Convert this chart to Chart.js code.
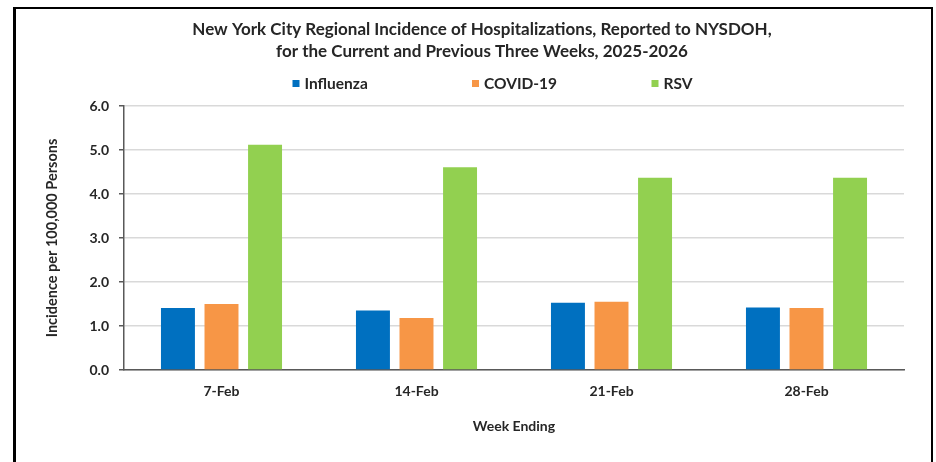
<!DOCTYPE html>
<html>
<head>
<meta charset="utf-8">
<script src="https://cdn.jsdelivr.net/npm/chart.js@4/dist/chart.umd.min.js"></script>
<style>
  html, body { margin: 0; padding: 0; background: #fff; overflow: hidden; }
  body { width: 936px; height: 462px; position: relative; }
  #frame { position: absolute; left: 13px; top: 7px; width: 920px; height: 480px; border: 2px solid #000; box-sizing: border-box; border-left-width: 3px; }
  #wrap { position: absolute; left: 0; top: 0; width: 936px; height: 462px; }
</style>
</head>
<body>
<div id="frame"></div>
<div id="wrap"><canvas id="c" width="936" height="462"></canvas></div>
<script>
const categories = ["7-Feb", "14-Feb", "21-Feb", "28-Feb"];
const influenza = [1.41, 1.35, 1.53, 1.42];
const covid19 = [1.50, 1.18, 1.55, 1.41];
const rsv = [5.12, 4.61, 4.37, 4.37];
const seriesNames = ["Influenza", "COVID-19", "RSV"];
const yTicks = [0, 1, 2, 3, 4, 5, 6];
const titleLines = ["New York City Regional Incidence of Hospitalizations, Reported to NYSDOH,",
                    "for the Current and Previous Three Weeks, 2025-2026"];
const yTitle = "Incidence per 100,000 Persons";
const xTitle = "Week Ending";

const FONT = "Lato, 'Liberation Sans', sans-serif";
const TXT = "#262626";

const spacedLegend = {
  id: 'spacedLegend',
  afterDraw(chart) {
    const ctx = chart.ctx;
    const tb = chart.titleBlock;
    const cx = (tb.left + tb.right) / 2;
    ctx.save();
    ctx.font = "bold 15.5px " + FONT;
    ctx.textBaseline = 'middle';
    ctx.textAlign = 'left';
    chart.data.datasets.forEach((ds, i) => {
      const x0 = cx - 189.5 + i * 179.5;
      ctx.fillStyle = ds.backgroundColor;
      ctx.fillRect(x0, 80, 7, 7);
      ctx.fillStyle = TXT;
      ctx.fillText(ds.label, x0 + 12, 84);
    });
    ctx.restore();
  }
};

new Chart(document.getElementById('c'), {
  type: 'bar',
  data: {
    labels: categories,
    datasets: [
      { label: seriesNames[0], data: influenza, backgroundColor: '#0070C0' },
      { label: seriesNames[1], data: covid19, backgroundColor: '#F79646' },
      { label: seriesNames[2], data: rsv, backgroundColor: '#92D050' }
    ]
  },
  options: {
    responsive: false,
    animation: false,
    categoryPercentage: 0.67,
    barPercentage: 0.78,
    layout: { padding: { left: 60, right: 32, top: 0, bottom: 0 } },
    plugins: {
      legend: { display: false },
      tooltip: { enabled: false },
      title: {
        display: true,
        text: titleLines,
        color: TXT,
        font: { family: FONT, size: 17, weight: 'bold', lineHeight: 22 / 17 },
        padding: { top: 19, bottom: 43 }
      }
    },
    scales: {
      x: {
        grid: { display: false, drawTicks: false },
        border: { display: true, color: '#595959', width: 1.5 },
        ticks: { color: TXT, font: { family: FONT, size: 14, weight: 'bold' }, padding: 13 },
        title: { display: true, text: xTitle, color: TXT, font: { family: FONT, size: 14, weight: 'bold' }, padding: { top: 0, bottom: 27 } },
        afterFit(scale) { scale.height = 92; }
      },
      y: {
        min: 0, max: 6,
        afterBuildTicks(scale) { scale.ticks = yTicks.map(v => ({ value: v })); },
        grid: { color: '#d9d9d9', lineWidth: 1.5, tickLength: 5, tickColor: '#595959' },
        border: { display: true, color: '#595959', width: 1.5 },
        ticks: { color: TXT, font: { family: FONT, size: 14, weight: 'bold' }, padding: 10,
                 callback: (v) => Number(v).toFixed(1) },
        title: { display: true, text: yTitle, color: TXT, font: { family: FONT, size: 14.5, weight: 'bold', lineHeight: 1.2 }, padding: { top: -16.7, bottom: 0 } },
        afterFit(scale) { scale.width = 64; }
      }
    }
  },
  plugins: [spacedLegend]
});
</script>
</body>
</html>
